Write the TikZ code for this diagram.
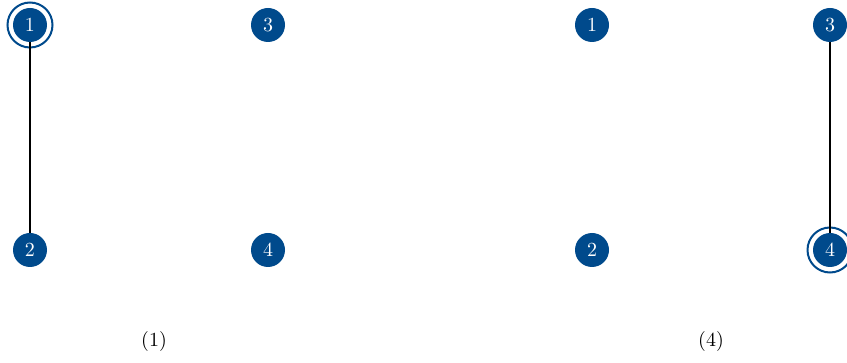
\documentclass[tikz,border=0pt]{standalone}
\usetikzlibrary{calc}
\definecolor{nodeblue}{RGB}{0,74,140}
\begin{document}
\begin{tikzpicture}[x=0.5pt,y=-0.5pt,
  vtx/.style={circle,fill=nodeblue,text=white,inner sep=0pt,minimum size=17pt,font=\normalsize},
  ring/.style={circle,draw=nodeblue,line width=1pt,minimum size=22.5pt,inner sep=0pt},
  edge/.style={line width=1pt,black}]
\useasboundingbox (0,0) rectangle (847,363);
% left
\node[vtx] (a1) at (30,25) {1};
\node[vtx] (a3) at (268,25) {3};
\node[vtx] (a2) at (30,250) {2};
\node[vtx] (a4) at (268,250) {4};
\node[ring] (ra1) at (a1) {};
\draw[edge] (a1) -- (a2);
\node (l1) at (154,342) {(1)};
% right
\node[vtx] (b1) at (592,25) {1};
\node[vtx] (b3) at (830,25) {3};
\node[vtx] (b2) at (592,250) {2};
\node[vtx] (b4) at (830,250) {4};
\node[ring] (rb4) at (b4) {};
\draw[edge] (b3) -- (b4);
\node (l4) at (711,342) {(4)};
\end{tikzpicture}
\end{document}
